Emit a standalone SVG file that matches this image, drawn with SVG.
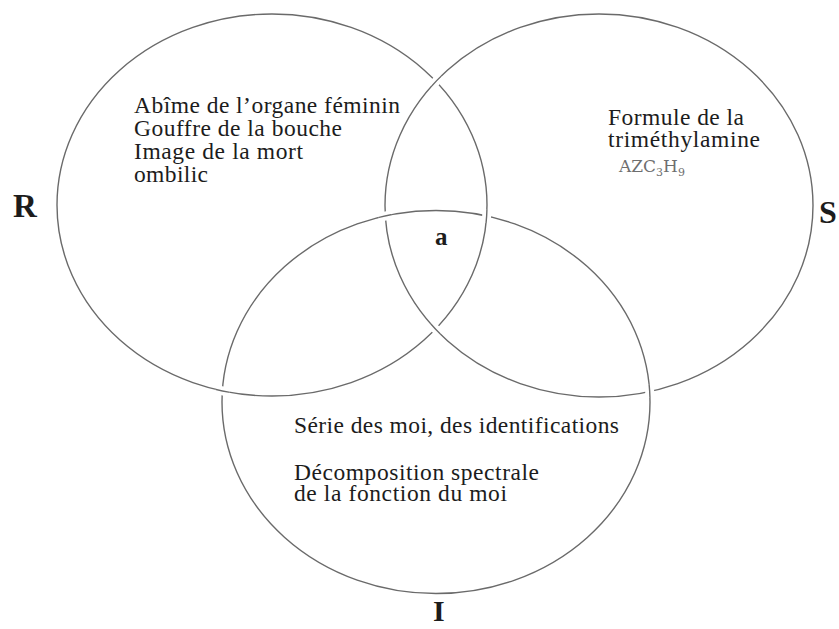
<svg xmlns="http://www.w3.org/2000/svg" xmlns:xlink="http://www.w3.org/1999/xlink" width="839" height="629" viewBox="0 0 839 629">
<style>
.ring{fill:none;stroke:#6a6a6a;stroke-width:1.4}
.mask{fill:none;stroke:#ffffff;stroke-width:9}
.txt{font-family:"Liberation Serif","Times New Roman",serif;font-size:23.5px;fill:#1c1c1c}
.lbl{font-family:"Liberation Serif","Times New Roman",serif;font-weight:bold;fill:#1c1c1c}
.formula{font-family:"DejaVu Serif",serif;font-size:17px;fill:#6e6e6e}
</style>
<defs>
<ellipse id="eR" cx="272" cy="205" rx="215" ry="191"/>
<ellipse id="eS" cx="599" cy="205.5" rx="214" ry="191.5"/>
<ellipse id="eI" cx="436" cy="402" rx="214" ry="191.5"/>
<clipPath id="cRS1"><circle cx="435.5" cy="80" r="7"/></clipPath>
<clipPath id="cRS2"><circle cx="435.5" cy="329" r="7"/></clipPath>
<clipPath id="cRI1"><circle cx="486.5" cy="216" r="7"/></clipPath>
<clipPath id="cRI2"><circle cx="222.5" cy="391.5" r="7"/></clipPath>
<clipPath id="cSI1"><circle cx="385" cy="216.3" r="7"/></clipPath>
<clipPath id="cSI2"><circle cx="650.2" cy="391.1" r="7"/></clipPath>
</defs>
<g id="ring-R">
<use xlink:href="#eR" class="ring"/>
<text class="lbl" x="13" y="217" font-size="33">R</text>
<text class="txt">
<tspan x="134" y="113" textLength="266" lengthAdjust="spacing">Abîme de l’organe féminin</tspan>
<tspan x="134" y="136" textLength="208" lengthAdjust="spacing">Gouffre de la bouche</tspan>
<tspan x="134" y="159" textLength="169" lengthAdjust="spacing">Image de la mort</tspan>
<tspan x="134" y="182" textLength="74" lengthAdjust="spacing">ombilic</tspan>
</text>
</g>
<g id="ring-S">
<use xlink:href="#eS" class="ring"/>
<text class="lbl" x="819" y="223" font-size="32">S</text>
<text class="txt">
<tspan x="608" y="125" textLength="136" lengthAdjust="spacing">Formule de la</tspan>
<tspan x="608" y="147" textLength="152" lengthAdjust="spacing">triméthylamine</tspan>
</text>
<text class="formula" x="619" y="172">AZC<tspan font-size="11" dy="4">3</tspan><tspan dy="-4">H</tspan><tspan font-size="11" dy="4">9</tspan></text>
</g>
<g id="ring-I">
<use xlink:href="#eI" class="ring"/>
<text class="lbl" x="433" y="621" font-size="30">I</text>
<text class="txt">
<tspan x="294" y="433" textLength="325" lengthAdjust="spacing">Série des moi, des identifications</tspan>
<tspan x="294" y="480" textLength="245" lengthAdjust="spacing">Décomposition spectrale</tspan>
<tspan x="294" y="501" textLength="213" lengthAdjust="spacing">de la fonction du moi</tspan>
</text>
</g>
<g id="crossings">
<g clip-path="url(#cRS1)"><use xlink:href="#eS" class="mask"/><use xlink:href="#eS" class="ring"/></g>
<g clip-path="url(#cRS2)"><use xlink:href="#eS" class="mask"/><use xlink:href="#eS" class="ring"/></g>
<g clip-path="url(#cRI1)"><use xlink:href="#eR" class="mask"/><use xlink:href="#eR" class="ring"/></g>
<g clip-path="url(#cRI2)"><use xlink:href="#eR" class="mask"/><use xlink:href="#eR" class="ring"/></g>
<g clip-path="url(#cSI1)"><use xlink:href="#eI" class="mask"/><use xlink:href="#eI" class="ring"/></g>
<g clip-path="url(#cSI2)"><use xlink:href="#eI" class="mask"/><use xlink:href="#eI" class="ring"/></g>
</g>
<g id="center-a">
<text class="lbl" x="435" y="245" font-size="25">a</text>
</g>
</svg>
